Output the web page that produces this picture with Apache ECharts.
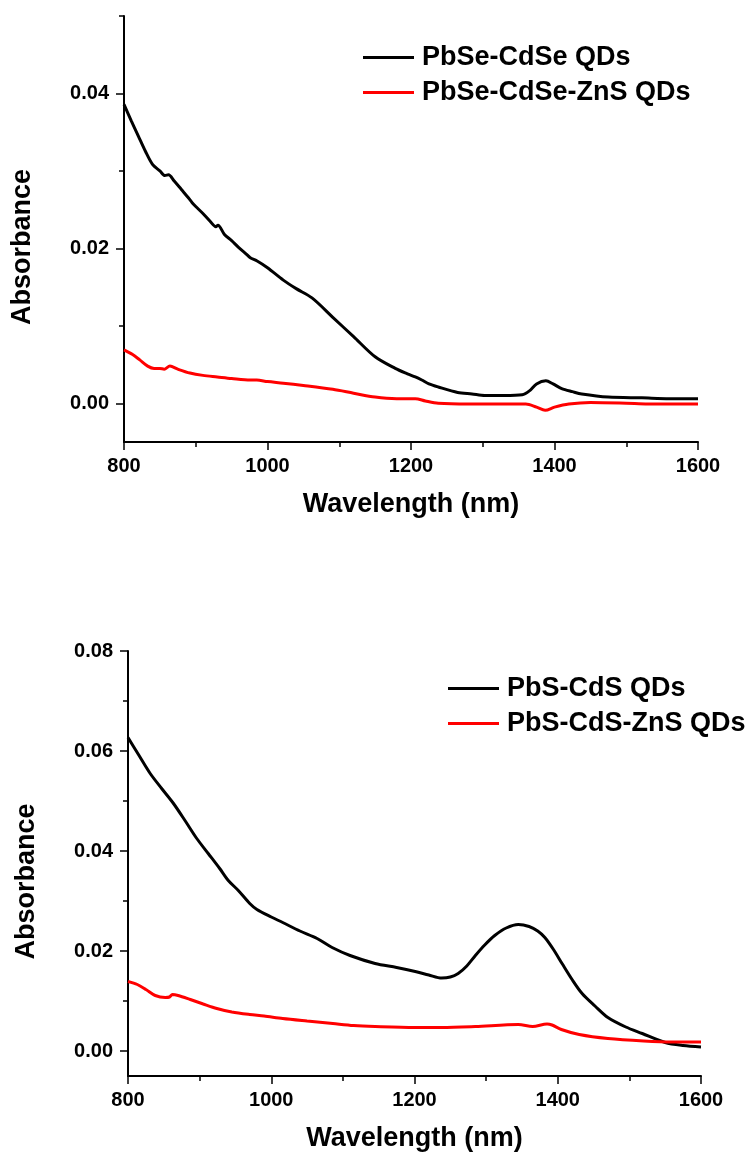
<!DOCTYPE html>
<html>
<head>
<meta charset="utf-8">
<script src="https://cdn.jsdelivr.net/npm/echarts@6/dist/echarts.min.js"></script>
<style>
html,body{margin:0;padding:0;background:#fff;}
#c{width:750px;height:1156px;}
</style>
</head>
<body>
<div id="c"></div>
<script>
// ---- Top panel: PbSe-CdSe ----
const wlTopBlack = [800,810,820,830,840,850,857,862,870,880,890,895,900,910,920,928,931,940,950,960,970,976,985,1000,1022,1040,1062,1091,1120,1150,1178,1195,1206,1215,1225,1238,1265,1285,1303,1330,1355,1365,1375,1388,1398,1410,1425,1438,1475,1522,1560,1600];
const absTopBlack = [0.0386,0.0365,0.0345,0.0325,0.0308,0.0300,0.0294,0.0295,0.0287,0.0276,0.0265,0.0259,0.0254,0.0245,0.0235,0.0228,0.0230,0.0218,0.0210,0.0201,0.0193,0.0188,0.0184,0.0175,0.0159,0.0148,0.0136,0.0111,0.0086,0.0060,0.0045,0.0038,0.0034,0.0030,0.0025,0.0021,0.0014,0.0012,0.0010,0.0010,0.0011,0.0016,0.0025,0.0029,0.0025,0.0019,0.0015,0.0012,0.0008,0.0007,0.0006,0.0006];
const wlTopRed = [800,812,822,833,842,850,856,864,875,892,910,930,950,976,985,1000,1022,1050,1091,1120,1150,1180,1206,1220,1238,1280,1330,1360,1375,1387,1400,1420,1450,1500,1530,1600];
const absTopRed = [0.0069,0.0063,0.0056,0.0048,0.0045,0.0045,0.0044,0.0048,0.0044,0.0039,0.0036,0.0034,0.0032,0.0030,0.0030,0.0028,0.0026,0.0023,0.0018,0.0013,0.0008,0.0006,0.0006,0.0003,0.0000,-0.0001,-0.0001,-0.0001,-0.0005,-0.0009,-0.0005,-0.0001,0.0001,0.0000,-0.0001,-0.0001];

// ---- Bottom panel: PbS-CdS ----
const wlBotBlack = [800,815,831,847,863,880,896,912,928,940,954,970,980,1000,1016,1040,1064,1085,1110,1145,1175,1201,1220,1238,1250,1261,1273,1285,1298,1312,1328,1345,1360,1372,1382,1394,1406,1420,1434,1452,1470,1495,1518,1550,1575,1600];
const absBotBlack = [0.0627,0.0592,0.0555,0.0525,0.0496,0.0460,0.0425,0.0395,0.0365,0.0341,0.0321,0.0295,0.0283,0.0268,0.0257,0.0240,0.0225,0.0207,0.0191,0.0175,0.0167,0.0159,0.0152,0.0146,0.0148,0.0155,0.0170,0.0191,0.0212,0.0231,0.0246,0.0253,0.0249,0.0240,0.0227,0.0203,0.0175,0.0143,0.0115,0.0090,0.0067,0.0048,0.0035,0.0017,0.0011,0.0008];
const wlBotRed = [800,813,825,838,852,858,862,870,887,905,924,945,970,990,1016,1050,1086,1115,1145,1200,1238,1285,1345,1365,1385,1392,1405,1430,1470,1520,1560,1600];
const absBotRed = [0.0139,0.0133,0.0123,0.0111,0.0107,0.0108,0.0113,0.0111,0.0103,0.0094,0.0085,0.0078,0.0073,0.0070,0.0065,0.0060,0.0055,0.0051,0.0049,0.0047,0.0047,0.0049,0.0053,0.0049,0.0054,0.0052,0.0043,0.0033,0.0025,0.0020,0.0018,0.0018];

// ---- Tick values ----
const xTicks = [800,1000,1200,1400,1600];
const yTopMajor = [0,0.02,0.04];
const yTopMinor = [0.01,0.03,0.05];
const yBotMajor = [0,0.02,0.04,0.06,0.08];
const yBotMinor = [0.01,0.03,0.05,0.07];

const names = ['PbSe-CdSe QDs','PbSe-CdSe-ZnS QDs','PbS-CdS QDs','PbS-CdS-ZnS QDs'];

const FF = "'Liberation Sans', Arial, sans-serif";
const pair = (xs, ys) => xs.map((x,i)=>[x, ys[i]]);

function xAxis(grid){
  return {
    type:'value', gridIndex:grid, min:xTicks[0], max:xTicks[xTicks.length-1], interval:xTicks[1]-xTicks[0],
    name:'Wavelength (nm)', nameLocation:'middle', nameGap:49,
    nameTextStyle:{fontFamily:FF, fontWeight:'bold', fontSize:27, color:'#000'},
    axisLine:{onZero:false, lineStyle:{color:'#000', width:2}},
    axisTick:{show:true, length:8, lineStyle:{color:'#000', width:1.5}},
    minorTick:{show:true, splitNumber:2, length:5, lineStyle:{color:'#000', width:1.5}},
    splitLine:{show:false}, minorSplitLine:{show:false},
    axisLabel:{fontFamily:FF, fontWeight:'bold', fontSize:20, color:'#000', margin:14,
      formatter:v=>String(v)}
  };
}
function yMain(grid, max, major){
  return {
    type:'value', gridIndex:grid, min:-0.005, max:max, position:'left',
    name:'Absorbance', nameLocation:'middle', nameGap:88,
    nameTextStyle:{fontFamily:FF, fontWeight:'bold', fontSize:27, color:'#000', padding:[0,36,0,0]},
    axisLine:{show:true, lineStyle:{color:'#000', width:2}},
    axisTick:{show:true, length:8, customValues:major, lineStyle:{color:'#000', width:1.5}},
    axisLabel:{fontFamily:FF, fontWeight:'bold', fontSize:20, color:'#000', margin:15,
      customValues:major, formatter:v=>v.toFixed(2)},
    splitLine:{show:false}
  };
}
function yMinor(grid, max, minor){
  return {
    type:'value', gridIndex:grid, min:-0.005, max:max, position:'left', offset:0,
    axisLine:{show:false},
    axisTick:{show:true, length:5, customValues:minor, lineStyle:{color:'#000', width:1.5}},
    axisLabel:{show:false},
    splitLine:{show:false}
  };
}
function line(name, data, color, xi, yi){
  return {
    name:name, type:'line', xAxisIndex:xi, yAxisIndex:yi, data:data,
    showSymbol:false, symbol:'none', smooth:0.3, animation:false,
    lineStyle:{color:color, width:3}, itemStyle:{color:color}, z:3
  };
}
function legend(left, top, data){
  return {
    orient:'vertical', left:left, top:top, padding:0, itemGap:8,
    icon:'rect', itemWidth:51, itemHeight:3,
    textStyle:{fontFamily:FF, fontWeight:'bold', fontSize:27, color:'#000', padding:[0,0,0,3]},
    data:data
  };
}

const chart = echarts.init(document.getElementById('c'), null, {renderer:'canvas'});
chart.setOption({
  animation:false,
  backgroundColor:'#fff',
  grid:[
    {left:124, top:16, width:574, height:426},
    {left:128, top:651, width:573, height:425}
  ],
  xAxis:[xAxis(0), xAxis(1)],
  yAxis:[yMain(0,0.05,yTopMajor), yMinor(0,0.05,yTopMinor), yMain(1,0.08,yBotMajor), yMinor(1,0.08,yBotMinor)],
  legend:[legend(363, 44, [names[0],names[1]]), legend(448, 675, [names[2],names[3]])],
  series:[
    line(names[0], pair(wlTopBlack, absTopBlack), '#000000', 0, 0),
    line(names[1], pair(wlTopRed, absTopRed), '#ff0000', 0, 0),
    line(names[2], pair(wlBotBlack, absBotBlack), '#000000', 1, 2),
    line(names[3], pair(wlBotRed, absBotRed), '#ff0000', 1, 2)
  ]
});
</script>
</body>
</html>
